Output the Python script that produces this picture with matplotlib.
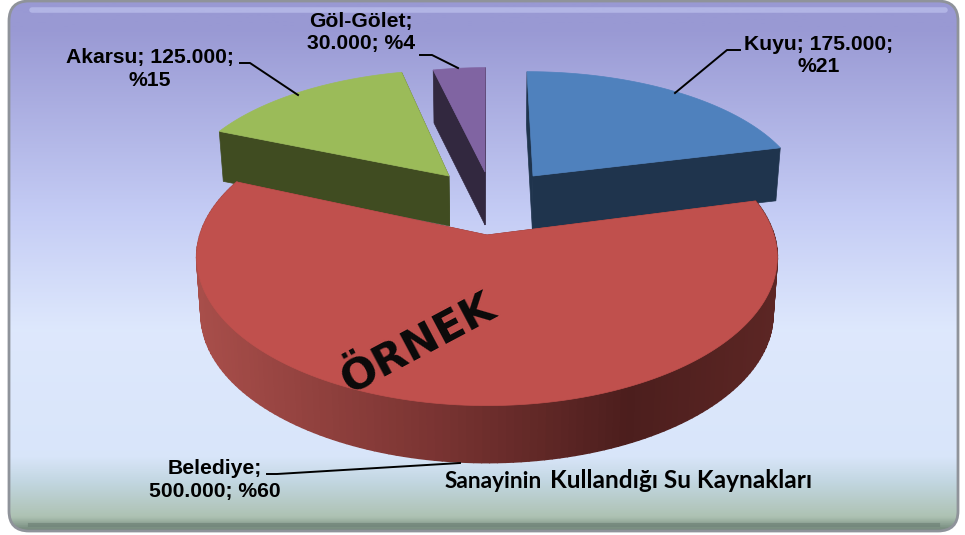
import numpy as np
import matplotlib
matplotlib.use('Agg')
import matplotlib.pyplot as plt
from matplotlib.patches import FancyBboxPatch, Polygon
from matplotlib.collections import PolyCollection
from matplotlib.colors import LinearSegmentedColormap

# data, clockwise from 12 o'clock
names = ['Kuyu', 'Belediye', 'Akarsu', 'Göl-Gölet']
values = [175000, 500000, 125000, 30000]
label_text = ['Kuyu; 175.000;\n%21', 'Belediye;\n500.000; %60', 'Akarsu; 125.000;\n%15', 'Göl-Gölet;\n30.000; %4']

# layout in pixels
tips = [(533, 176), (487, 235), (449, 176), (485, 172)]
radii = [(266, 120), (287, 145), (266, 122), (265, 120)]
depths = [53, 57, 50, 53]
top_cols = ['#4f81bd', '#c0504d', '#9bbb59', '#8064a2']
dark_cols = ['#1f344d', '#6e2f2d', '#404c21', '#32283f']
label_pos = [(819, 55), (215, 480), (150, 69), (361, 32)]
leaders = [[(675, 93), (727, 50), (740, 50)],
           [(460, 463), (277, 474), (267, 474)],
           [(298, 95), (250, 63), (240, 63)],
           [(458, 68), (432, 55), (420, 55)]]
k = 0.15


def project(th, tip, rad):
    X, Y = np.sin(th), np.cos(th)
    s = 1 / (1 + k * Y)
    return tip[0] + rad[0] * X * s + (tip[0] - 487) * (s - 1), tip[1] - rad[1] * Y * s


def drop(x, y, d):
    return 487 + (np.asarray(x) - 487) * 0.985, np.asarray(y) + d


fig = plt.figure(figsize=(9.65, 5.35), dpi=100)
ax = fig.add_axes([0, 0, 1, 1])
ax.axis('off')

# panel
bg = LinearSegmentedColormap.from_list('bg', [
    (0.00, (0.60, 0.60, 0.83)), (0.05, (0.60, 0.60, 0.83)), (0.40, (0.77, 0.80, 0.96)),
    (0.62, (0.87, 0.91, 0.99)), (0.86, (0.85, 0.90, 0.98)), (0.91, (0.76, 0.84, 0.88)),
    (0.975, (0.68, 0.76, 0.70)), (1.00, (0.45, 0.53, 0.48))])
frame = FancyBboxPatch((9, 1), 949, 530, boxstyle='round,pad=0,rounding_size=20',
                       fc='none', ec='#8f939a', lw=2, zorder=3)
ax.add_patch(frame)
im = ax.imshow(np.linspace(0, 1, 256)[:, None], cmap=bg, extent=(9, 958, 531, 1), aspect='auto', zorder=1)
im.set_clip_path(frame)
ax.set_xlim(0, 965)
ax.set_ylim(535, 0)
ax.plot([32, 945], [10, 10], color='#c3c8f2', lw=4, alpha=0.6, zorder=2, solid_capstyle='round')
ax.plot([30, 938], [525, 525], color='#6f8378', lw=3, alpha=0.7, zorder=2)

wall_map = LinearSegmentedColormap.from_list('wall', [
    (0.0, '#a84e4a'), (0.4, '#7c3533'), (0.75, '#4c1e1d'), (1.0, '#5c2624')])

edges = np.cumsum([0] + values) / sum(values) * 2 * np.pi
draw_order = [0, 2, 3, 1]
for n, i in enumerate(draw_order):
    z = 5 + n
    th = np.linspace(edges[i], edges[i + 1], 160)
    tip, rad, d = tips[i], radii[i], depths[i]
    ax_, ay_ = project(th, tip, rad)
    bx, by = drop(ax_, ay_, d)
    tbx, tby = drop(tip[0], tip[1], d)
    # cut faces at both ends of the slice
    for e in [0, -1]:
        ax.add_patch(Polygon([tip, (ax_[e], ay_[e]), (bx[e], by[e]), (tbx, tby)], fc=dark_cols[i], ec=dark_cols[i], lw=0.5, zorder=z))
    # outer wall, only the big slice shows it
    if i == 1:
        quads = [[(ax_[j], ay_[j]), (ax_[j + 1], ay_[j + 1]), (bx[j + 1], by[j + 1]), (bx[j], by[j])] for j in range(len(th) - 1)]
        cols = wall_map((ax_[:-1] - 196) / (777 - 196))
        ax.add_collection(PolyCollection(quads, facecolors=cols, edgecolors=cols, lw=1.2, zorder=z))
    # top face
    ax.add_patch(Polygon(np.column_stack([np.r_[tip[0], ax_], np.r_[tip[1], ay_]]), fc=top_cols[i], ec=top_cols[i], lw=0.5, zorder=z))

# labels
for i in range(len(names)):
    ax.text(label_pos[i][0], label_pos[i][1], label_text[i], family='Liberation Sans', weight='bold', fontsize=15.2,
            ha='center', va='center', linespacing=1.2, color='black', zorder=12)
    xs, ys = zip(*leaders[i])
    ax.plot(xs, ys, color='black', lw=1.4, zorder=11)

ax.text(418, 343, 'ÖRNEK', family='DejaVu Sans', weight='bold', fontsize=31, rotation=28, rotation_mode='anchor',
        ha='center', va='center', color='#0a0a0a', zorder=12)

ax.text(445, 481, 'Sanayinin', family='Lato', weight='bold', fontsize=16.3, ha='left', va='center', zorder=12)
ax.text(550, 481, 'Kullandığı Su Kaynakları', family='Lato', weight='bold', fontsize=17.6, ha='left', va='center', zorder=12)

fig.savefig('out.png', dpi=100)
